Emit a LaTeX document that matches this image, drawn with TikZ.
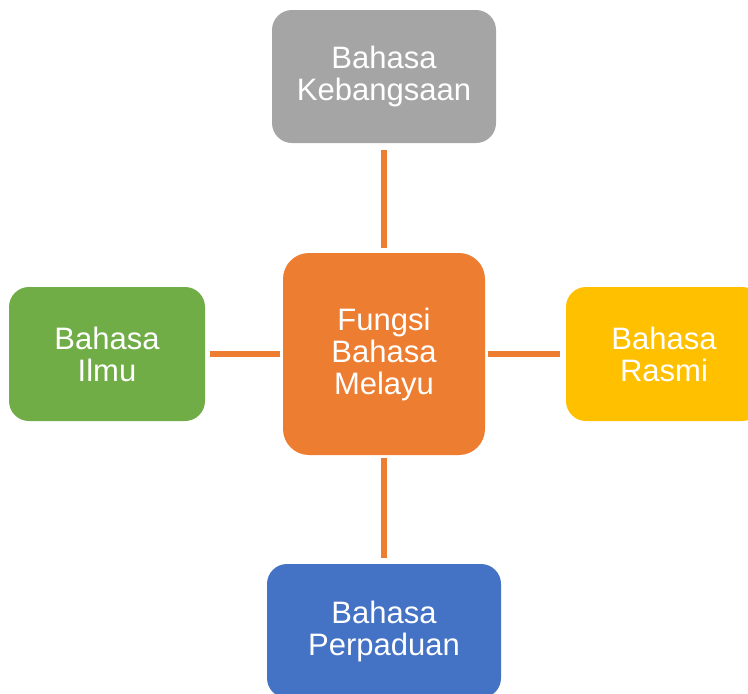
\documentclass[tikz,border=0pt]{standalone}
\usepackage{fontspec}
\setmainfont{Liberation Sans}
\definecolor{grayfill}{HTML}{A5A5A5}
\definecolor{orangefill}{HTML}{ED7D31}
\definecolor{greenfill}{HTML}{70AD47}
\definecolor{yellowfill}{HTML}{FFC000}
\definecolor{bluefill}{HTML}{4472C4}
\tikzset{
  box/.style={rectangle, rounded corners=20pt, inner sep=0pt, align=center,
    text=white, font=\fontsize{31}{32}\selectfont},
  link/.style={draw=orangefill, line width=6pt},
}
\begin{document}
\begin{tikzpicture}[x=1pt, y=-1pt]
  \useasboundingbox (0,0) rectangle (748,694);
  \clip (0,0) rectangle (748,694);
  % centre box
  \node[box, fill=orangefill, rounded corners=26pt, minimum width=202pt, minimum height=202pt]
    (centre) at (384,354) {Fungsi\\Bahasa\\Melayu};
  % surrounding boxes
  \node[box, fill=grayfill, minimum width=224pt, minimum height=133pt]
    (top) at (384,76.5) {Bahasa\\Kebangsaan};
  \node[box, fill=greenfill, minimum width=196pt, minimum height=134pt]
    (left) at (107,354) {Bahasa\\Ilmu};
  \node[box, fill=yellowfill, minimum width=196pt, minimum height=134pt]
    (right) at (664,354) {Bahasa\\Rasmi};
  \node[box, fill=bluefill, minimum width=234pt, minimum height=134pt]
    (bottom) at (384,631) {Bahasa\\Perpaduan};
  % connectors
  \draw[link, shorten <=7pt, shorten >=5pt] (top.south) -- (centre.north);
  \draw[link, shorten <=5pt, shorten >=3pt] (left.east) -- (centre.west);
  \draw[link, shorten <=3pt, shorten >=6pt] (centre.east) -- (right.west);
  \draw[link, shorten <=3pt, shorten >=6pt] (centre.south) -- (bottom.north);
\end{tikzpicture}
\end{document}
